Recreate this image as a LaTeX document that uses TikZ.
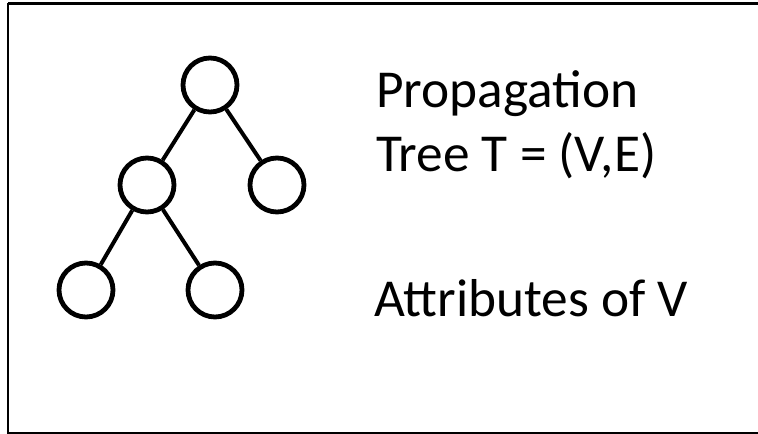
\documentclass[tikz,border=0pt]{standalone}
\usepackage{fontspec}
\setmainfont{Carlito}
\usetikzlibrary{calc}

\begin{document}
\begin{tikzpicture}[x=0.75pt,y=-0.75pt,
    vertex/.style={draw,circle,line width=3.6pt,minimum size=40.5pt,inner sep=0pt},
    label/.style={anchor=base west,inner sep=0pt,font=\fontsize{40}{48}\selectfont}]

    \useasboundingbox (0,0) rectangle (758,434);
    \draw[line width=1.8pt] (8,3.5) -- (800,3.5);
    \draw[line width=1.8pt] (8,3.5) -- (8,433) -- (800,433);

    % the tree
    \node[vertex] (root) at (210,85) {};
    \node[vertex] (left) at (147,185) {};
    \node[vertex] (right) at (277,185) {};
    \node[vertex] (leftleft) at (86,290) {};
    \node[vertex] (leftright) at (215,290) {};
    \foreach \a/\b in {root/left,root/right,left/leftleft,left/leftright} {
        \draw[line width=3pt] (\a) -- (\b);
    }

    \node[label] (title) at (376,108) {Propagation};
    \node[label] (tree) at (376,172) {Tree T = (V,E)};
    \node[label] (attr) at (374,317) {Attributes of V};
\end{tikzpicture}
\end{document}
